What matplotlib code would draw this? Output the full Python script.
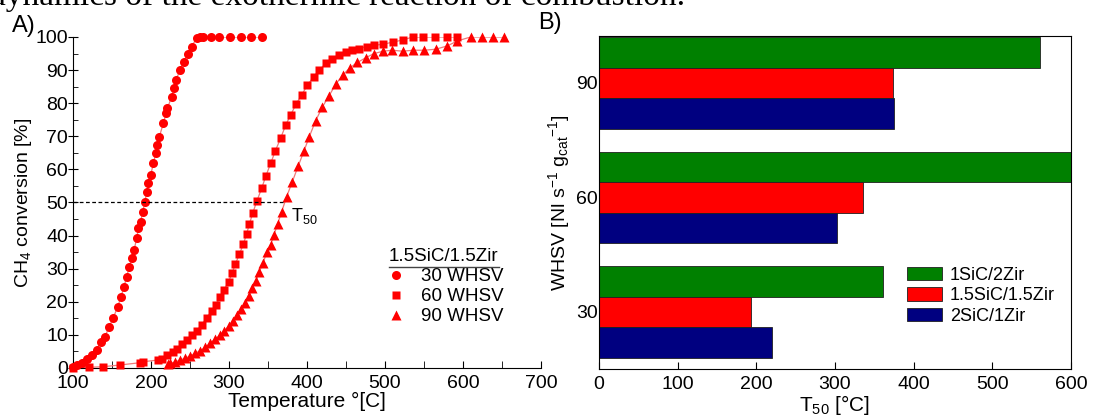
import numpy as np
import matplotlib
matplotlib.use("Agg")
import matplotlib.pyplot as plt
from matplotlib.lines import Line2D

plt.rcParams['font.family'] = ['Liberation Sans', 'DejaVu Sans']
plt.rcParams['mathtext.default'] = 'regular'

# A) CH4 conversion vs temperature, 1.5SiC/1.5Zir
t_30 = [100.4, 104.7, 111.2, 117.6, 124.0, 130.3, 135.5, 141.0, 146.5, 151.7,
        157.3, 161.5, 165.4, 168.8, 172.2, 175.2, 178.2, 181.7, 183.8, 186.7,
        189.3, 192.3, 194.4, 196.6, 199.6, 203.0, 206.0, 208.0, 210.7, 215.8,
        219.2, 221.0, 226.5, 229.0, 232.0, 237.2, 242.3, 247.0, 252.0, 258.5,
        262.5, 266.7, 276.6, 287.8, 301.4, 314.9, 328.4, 341.9]
conv_30 = [0.4, 0.9, 1.4, 2.6, 3.9, 5.4, 7.9, 9.5, 12.5, 15.2,
           18.5, 21.5, 24.6, 27.6, 30.6, 33.1, 35.6, 39.2, 42.2, 44.2,
           47.2, 50.2, 53.3, 55.8, 58.3, 61.8, 64.9, 67.4, 69.9, 73.9,
           76.9, 78.4, 82.0, 84.5, 87.0, 90.0, 92.5, 95.0, 97.1, 99.6,
           100, 100, 100, 100, 100, 100, 100, 100]

t_60 = [100, 120, 139, 160, 186, 190, 209, 214, 221, 228.6,
        233, 239.4, 245.8, 252.2, 258.6, 265, 271.4, 277.8, 283.3, 288.5,
        293.6, 299.6, 303.8, 308, 313.2, 318.4, 322.6, 326, 330.3, 335.5,
        341.9, 347.4, 353.4, 359.4, 366.2, 372.7, 379, 385.9, 393.2, 400.4,
        408.6, 415.8, 423.9, 432.5, 441, 449.6, 458, 467, 476.5, 485.9,
        497.9, 510.7, 523, 535.5, 548.3, 564.5, 579, 592]
conv_60 = [0, 0.2, 0.4, 0.9, 1.6, 1.9, 2.4, 2.8, 3.8, 4.9,
           5.6, 7.3, 8.5, 10, 11.3, 13, 15.2, 17.2, 19, 21.4,
           23.6, 26.1, 28.6, 31.3, 34.3, 37.4, 40.5, 43.4, 46.7, 50.3,
           54.3, 58.1, 61.8, 65.6, 69.4, 73.4, 76.4, 79.7, 82.5, 85.4,
           88, 90, 92, 93.2, 94.7, 95.4, 96, 96.5, 97.1, 97.5,
           97.8, 98.5, 99.1, 100, 100, 100, 100, 100]

t_90 = [222, 224.4, 230.8, 237.2, 243.6, 250, 256.4, 262.8, 269.2, 275.6,
        282, 288.5, 293.6, 299.6, 304.7, 309.8, 315, 320.5, 325.2, 329.5,
        334.6, 338.8, 344, 348.3, 353.4, 357.7, 362.3, 367.5, 374, 381.2,
        388.9, 396.2, 403, 411.1, 419.6, 428.2, 436.8, 445.7, 455.1, 464.5,
        475.2, 485.9, 497.8, 509.4, 522.6, 536.3, 550.4, 565, 579.9, 592.7,
        609.8, 624, 638, 652]
conv_90 = [1.2, 1.4, 1.8, 2.4, 2.9, 3.6, 4.4, 5.2, 6.2, 7.5,
           8.7, 10, 11.2, 12.7, 14.3, 16, 17.7, 19.7, 21.8, 24.1,
           26.3, 29.1, 31.8, 35.1, 37.2, 40.2, 43.5, 47.2, 51.8, 56.3,
           61.1, 65.6, 69.9, 74.7, 78.8, 82.2, 85.7, 88.5, 90.7, 92.3,
           93.7, 95, 95.7, 96, 95.7, 96, 96, 96.3, 97.3, 98.8,
           100, 100, 100, 100]

t50_line_end = 372

# B) T50 per WHSV for the three catalysts
whsv = [30, 60, 90]
t50_1sic_2zir = [361, 600, 561]
t50_15sic_15zir = [193, 336, 374]
t50_2sic_1zir = [220, 303, 375]

fs = 14
fig = plt.figure(figsize=(10.98, 4.16), dpi=100)

# cut-off caption line from the page
fig.text(-0.010, 0.987, "dynamics of the exothermic reaction of combustion.",
         family='Liberation Serif', fontsize=24, va='baseline', ha='left')

ax = fig.add_axes([0.0665, 0.1154, 0.4262, 0.7957])
red = '#ff0000'
fit = '#f07878'
ax.plot(t_30, conv_30, '-', color=fit, lw=0.9, zorder=2)
ax.plot(t_60, conv_60, '-', color=fit, lw=0.9, zorder=2)
ax.plot(t_90, conv_90, '-', color=fit, lw=0.9, zorder=2)
ax.plot(t_30, conv_30, 'o', color=red, ms=6.5, mec='none', clip_on=False, label='30 WHSV', zorder=3)
ax.plot(t_60, conv_60, 's', color=red, ms=5.6, mec='none', clip_on=False, label='60 WHSV', zorder=3)
ax.plot(t_90, conv_90, '^', color=red, ms=7.0, mec='none', clip_on=False, label='90 WHSV', zorder=3)
ax.plot([100, t50_line_end], [50, 50], '--', color='black', lw=0.9, dashes=(3, 2), zorder=4)
ax.text(t50_line_end + 8, 49, 'T$_{50}$', fontsize=13, va='top', ha='left')

ax.set_xlim(100, 700)
ax.set_ylim(0, 100)
ax.set_xticks(np.arange(100, 701, 100))
ax.set_xticks(np.arange(150, 700, 100), minor=True)
ax.set_yticks(np.arange(0, 101, 10))
ax.set_yticks(np.arange(5, 100, 10), minor=True)
ax.spines['top'].set_visible(False)
ax.spines['right'].set_visible(False)
ax.tick_params(axis='x', which='both', direction='in', length=5, labelsize=fs, pad=5)
ax.tick_params(axis='y', which='major', direction='inout', length=7, labelsize=fs, pad=0)
ax.tick_params(axis='y', which='minor', direction='in', length=3.5)
ax.set_xlabel('Temperature °[C]', fontsize=15, labelpad=0)
ax.set_ylabel('CH$_4$ conversion [%]', fontsize=fs, labelpad=1)

leg = ax.legend(loc='upper left', bbox_to_anchor=(0.655, 0.39), frameon=False,
                title='1.5SiC/1.5Zir', title_fontsize=13.5, fontsize=13.5,
                handlelength=0.8, handletextpad=0.9, labelspacing=0.15,
                borderpad=0, alignment='left')

fig.text(0.022, 0.937, 'A)', fontsize=17, ha='center', va='center')
fig.text(0.501, 0.945, 'B)', fontsize=17, ha='center', va='center')

# B) bars
bx = fig.add_axes([0.5455, 0.113, 0.4299, 0.8005])
y = np.array(whsv, dtype=float)
h = 8
bx.barh(y + h, t50_1sic_2zir, height=h, color='#008000', edgecolor='#202020', lw=0.6, label='1SiC/2Zir')
bx.barh(y, t50_15sic_15zir, height=h, color='#ff0000', edgecolor='#202020', lw=0.6, label='1.5SiC/1.5Zir')
bx.barh(y - h, t50_2sic_1zir, height=h, color='#000080', edgecolor='#202020', lw=0.6, label='2SiC/1Zir')
bx.set_xlim(0, 600)
bx.set_ylim(15, 102.3)
bx.set_yticks(whsv)
bx.set_yticklabels([str(v) for v in whsv])
bx.set_xticks(np.arange(0, 601, 100))
bx.tick_params(axis='x', direction='in', length=5, labelsize=fs, pad=5)
bx.tick_params(axis='y', length=0, labelsize=fs, pad=1)
bx.set_xlabel('T$_{50}$ [°C]', fontsize=15, labelpad=0)
bx.set_ylabel('WHSV [Nl s$^{-1}$ g$_{cat}$$^{-1}$]', fontsize=fs, labelpad=3)
bx.legend(loc='lower right', bbox_to_anchor=(0.985, 0.105), frameon=False, fontsize=13,
          handlelength=1.9, handleheight=0.75, handletextpad=0.45, labelspacing=0.2, borderpad=0)

# underline for the legend title
fig.canvas.draw()
r = fig.canvas.get_renderer()
tb = leg.get_title().get_window_extent(r)
W, H = fig.get_size_inches() * fig.dpi
fig.add_artist(Line2D([tb.x0 / W, tb.x1 / W], [(tb.y0 - 2) / H, (tb.y0 - 2) / H],
                      color='#444444', lw=1.0))

fig.savefig('out.png', dpi=100)
